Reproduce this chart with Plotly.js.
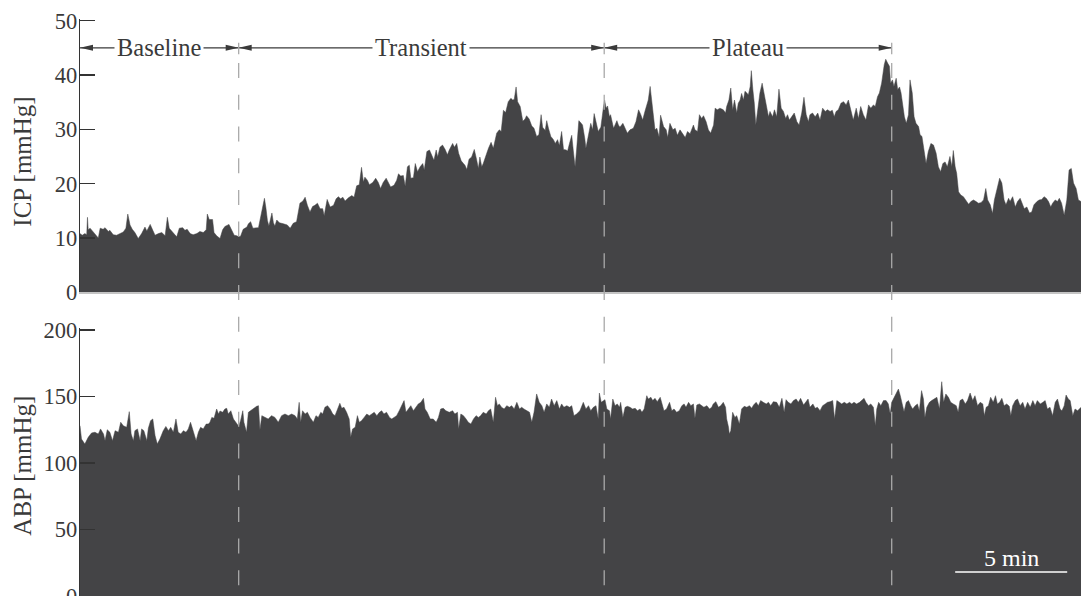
<!DOCTYPE html>
<html><head><meta charset="utf-8">
<script src="https://cdn.plot.ly/plotly-3.0.1.min.js"></script>
<style>html,body{margin:0;padding:0;background:#fff}#chart{width:1081px;height:596px}</style>
</head><body><div id="chart"></div>
<script>
// time in seconds, ICP in mmHg
const icpTime = [0,6,13,18,20,22,27,36,45,49,54,62,67,76,80,89,98,107,116,123,128,134,140,147,156,165,174,179,188,195,201,210,219,228,234,239,246,259,266,275,281,287,295,303,313,321,330,338,341,346,355,359,366,375,382,388,399,406,413,420,425,430,437,447,451,457,463,478,482,489,494,498,502,506,511,514,518,522,527,534,545,555,563,571,580,585,589,597,603,609,616,623,629,636,643,650,654,659,662,
670,679,686,692,698,704,710,719,728,734,741,748,754,759,763,770,775,784,792,799,805,812,820,826,832,841,848,853,859,866,871,877,882,886,893,898,904,911,918,922,929,936,942,948,954,958,964,971,978,984,989,998,1003,1009,1014,1021,1027,1031,1036,1042,1049,1056,1062,1067,1071,1076,1080,1088,1094,1101,1107,1116,1123,1128,1134,1140,1147,1154,1159,1163,1168,1172,1179,1186,1192,1196,1203,1210,1216,1223,1229,1235,1239,1246,1250,1255,1261,1268,1273,1279,1284,1290,1295,1302,1306,1311,1317,1321,1326,1330,1336,
1339,1346,1352,1355,1362,1368,1373,1377,1382,1388,1395,1398,1402,1405,1409,1413,1418,1421,1429,1433,1438,1442,1446,1454,1460,1466,1473,1482,1489,1496,1502,1507,1513,1518,1522,1527,1531,1536,1540,1545,1551,1555,1563,1570,1574,1580,1588,1594,1600,1607,1614,1621,1627,1634,1643,1647,1654,1659,1665,1670,1677,1683,1689,1697,1701,1707,1714,1723,1729,1732,1738,1743,1748,1753,1759,1763,1768,1772,1777,1781,1786,1790,1795,1798,1802,1806,1810,1815,1821,1827,1833,1838,1844,1848,1855,1860,1866,1872,1878,1884,1890,1895,1900,1906,1913,1920,1926,1933,1939,1945,1951,1955,1962,1969,1976,1982,1989,1996,2002,2009,2015,2020,2025,2031,
2038,2045,2052,2058,2065,2071,2079,2085,2091,2098,2105,2112,2118,2125,2130,2136,2141,2147,2154,2158,2163,2168,2171,2176,2180,2186,2190,2195,2199,2204,2208,2213,2219,2223,2229,2234,2239,2246,2250,2255,2261,2266,2272,2279,2286,2293,2299,2305,2311,2317,2323,2330,2335,2339,2344,2348,2353,2359,2366,2372,2380,2386,2393,2400,2406,2413,2420,2426,2431,2438,2444,2449,2455,2463,2469,2475,2480,2487,2491,2498,2505,2511,2518,2522,2529,2536,2543,2549,2555,2563,2569,2576,2582,2588,2594,2600,2605,2612,2618,2623,2629,2636,2643,2649,2655,2661,2668,2674,2681];
const icpValue = [10.8,10.5,10.8,10.6,13.8,11.5,11.8,11.0,10.2,10.0,11.8,11.6,11.9,11.2,11.4,10.6,10.5,10.8,11.1,11.8,14.4,12.4,11.6,11.0,9.9,10.8,12.0,11.3,12.5,11.4,10.5,10.8,11.0,10.4,13.8,11.8,11.2,10.2,11.8,11.9,11.4,11.6,10.8,10.6,10.8,11.2,11.0,11.5,14.4,13.4,13.4,11.0,10.4,9.9,11.5,12.1,12.5,11.5,10.5,10.4,10.2,10.3,11.6,12.0,12.6,13.0,11.8,11.9,13.3,16.0,17.3,15.5,13.2,12.2,13.5,14.6,12.8,12.2,13.3,12.8,12.6,12.4,11.8,12.7,13.0,15.0,16.4,16.8,17.5,16.0,14.8,15.8,16.0,16.4,15.4,15.4,14.1,16.0,17.1,
15.7,16.0,17.2,17.6,17.2,17.5,16.8,17.4,17.8,17.5,19.6,19.8,23.0,20.3,21.2,20.6,19.8,20.2,21.0,20.2,19.1,20.2,21.0,20.2,19.4,19.7,20.6,21.8,21.4,21.5,19.5,23.1,23.4,21.0,21.1,23.7,22.2,23.1,23.7,22.5,25.9,26.2,25.3,24.3,26.2,24.9,26.7,27.1,26.3,25.3,26.2,27.4,26.7,27.4,25.6,24.2,23.7,23.4,22.6,24.5,24.9,26.3,24.5,22.8,24.9,23.1,23.7,25.5,26.5,27.6,26.5,29.3,29.9,29.6,33.5,33.1,35.1,35.7,35.4,35.5,37.8,35.1,34.2,31.5,31.9,32.5,31.9,30.6,30.2,28.7,29.0,32.7,30.4,29.8,31.6,30.1,28.7,28.1,27.4,28.1,27.0,29.6,26.3,26.2,26.0,27.4,28.9,26.2,23.1,26.2,31.6,
31.4,30.8,28.3,26.5,29.0,31.1,29.9,32.9,31.4,29.6,30.4,32.6,34.1,35.4,33.9,34.3,32.3,32.7,30.2,30.8,31.6,30.8,30.4,31.1,30.2,29.3,29.9,30.2,31.4,33.6,32.7,31.7,33.3,34.5,35.4,37.9,35.1,32.3,29.9,30.2,28.6,32.6,30.5,29.9,28.5,31.1,29.9,30.2,28.9,29.9,29.3,28.5,29.6,29.2,30.8,29.9,29.6,32.7,32.0,32.5,31.4,29.9,29.3,30.8,33.9,33.6,33.9,33.6,33.0,34.2,35.4,37.6,33.6,35.4,33.0,34.8,35.4,36.6,35.4,37.0,36.7,36.3,37.9,40.8,37.4,34.8,30.8,33.6,36.7,38.5,36.3,34.8,32.3,33.3,32.3,33.6,32.3,37.4,33.9,33.3,32.0,32.7,31.7,32.3,33.0,31.4,30.8,33.0,35.9,32.7,31.4,32.7,33.0,32.3,33.0,31.7,33.9,33.3,33.6,33.3,33.5,32.3,33.3,33.6,
34.8,35.1,34.5,35.4,33.6,31.7,33.9,32.0,34.2,32.7,31.7,34.5,33.9,34.5,34.2,36.0,36.7,38.5,41.9,42.9,42.2,41.6,38.5,39.1,37.9,39.4,37.3,37.8,36.7,34.2,32.3,31.1,32.7,39.1,36.7,32.3,31.1,30.5,29.0,28.7,25.9,23.7,25.9,27.4,27.1,25.6,23.1,22.2,23.7,24.0,23.1,25.0,23.1,26.1,23.1,21.9,18.5,17.9,17.6,17.0,16.2,16.7,17.0,16.7,16.4,16.5,17.0,19.1,17.0,16.1,14.5,17.0,18.8,21.0,20.1,17.0,16.1,17.3,16.7,17.6,15.7,16.7,17.3,16.7,15.4,15.7,14.6,14.8,16.1,16.7,17.0,17.1,17.6,17.3,16.7,15.7,16.4,17.0,16.7,17.3,16.4,14.2,17.0,22.5,22.8,20.1,19.1,17.0,16.7];

// time in seconds, ABP in mmHg
const abpTime = [0,4,13,22,31,40,49,55,63,67,73,80,87,94,103,109,116,125,132,137,143,147,154,161,165,171,179,183,189,195,201,207,214,223,230,237,243,250,257,263,270,277,284,290,296,304,311,317,323,330,338,344,348,353,359,366,371,375,382,388,393,397,404,411,418,425,430,436,439,446,451,457,464,473,478,482,487,496,504,513,522,531,540,549,558,567,576,582,587,591,596,603,609,616,625,632,638,645,650,656,663,670,677,683,689,696,701,707,714,721,725,730,737,743,748,754,761,768,775,781,788,795,802,808,814,821,829,835,841,848,855,862,868,873,880,886,893,900,906,913,920,924,930,938,946,954,960,966,973,980,989,998,1004,1011,1014,1020,1027,1034,1040,1047,1054,1061,1067,1073,1080,1088,1094,1100,1107,1113,1118,1123,1129,1136,1143,1150,1156,1163,1170,1177,1183,1189,1196,1204,1210,1216,1223,1230,1237,1243,1250,1257,1263,1270,1277,1284,1290,1296,1304,1311,1317,1323,1330,1339,
1348,1355,1362,1368,1375,1382,1388,1391,1396,1402,1406,1411,1418,1421,1427,1433,1439,1445,1448,1454,1460,1466,1473,1480,1487,1493,1500,1505,1511,1518,1522,1529,1534,1540,1546,1554,1559,1564,1571,1579,1585,1591,1598,1605,1612,1618,1623,1630,1636,1643,1647,1652,1659,1665,1671,1679,1686,1692,1696,1703,1710,1716,1723,1729,1732,1737,1739,1743,1748,1754,1759,1766,1772,1779,1786,1793,1799,1804,1811,1817,1823,1830,1838,1844,1850,1857,1866,1873,1880,1886,1891,1897,1904,1911,1918,1924,1930,1938,1944,1950,1955,1963,1969,1975,1982,1989,1996,2002,2009,2016,2021,2027,2034,2040,2047,2054,2061,2067,2073,2080,2088,2094,2100,2105,2112,2118,2125,2130,2134,2139,2145,2152,2159,2165,2170,2174,2179,2185,2192,2197,2201,2207,2213,2219,2225,2230,2237,2243,2248,2254,2259,2263,2268,2275,2281,2288,2295,2302,2308,2313,2319,2326,2332,2339,2347,2352,2357,2364,2371,2377,2384,2391,2397,2404,2411,2418,2422,2427,2433,2439,2446,2452,2457,2463,2469,2475,2482,2489,2493,2498,2505,2511,2518,2525,2531,2538,2545,2552,2558,2564,2572,2579,2585,2591,2598,2605,2612,2618,2625,2630,2636,2641,2647,2652,2659,2665,2672,2681];
const abpValue = [128.0,118.0,114.3,119.3,122.6,123.1,121.8,125.6,121.8,116.8,125.0,123.1,116.8,124.3,123.1,130.6,128.0,126.8,138.6,121.8,116.8,124.3,125.6,116.8,125.6,124.3,116.8,126.1,131.8,133.1,120.6,114.3,118.0,124.3,127.5,124.3,126.8,123.1,133.1,123.1,121.8,124.3,123.1,125.6,130.6,123.1,116.8,123.1,126.8,125.6,129.3,129.3,130.6,134.3,133.6,140.6,136.8,139.1,138.1,140.6,141.1,136.8,139.3,133.1,130.6,127.6,131.8,139.3,130.6,123.1,138.1,139.3,141.1,142.6,143.1,125.0,135.6,134.3,133.1,135.6,134.3,130.6,135.6,136.8,135.6,136.8,135.6,133.1,145.6,130.6,139.3,136.8,138.1,134.3,130.6,135.6,134.3,138.1,136.8,141.9,143.1,140.6,136.8,135.6,140.6,144.9,141.1,141.9,138.1,133.1,119.3,125.6,126.8,135.6,130.6,131.8,134.3,136.8,135.6,136.8,138.1,135.6,138.1,139.3,136.8,138.1,134.3,133.1,134.3,135.6,139.3,143.1,146.9,138.1,140.6,143.1,139.3,141.9,144.4,145.6,148.6,140.6,138.1,133.1,133.1,130.6,134.3,140.6,141.1,139.3,138.1,139.3,136.8,138.1,125.6,136.8,135.6,133.1,130.6,129.3,133.1,135.6,134.3,135.6,138.1,136.8,139.3,140.6,130.6,149.4,143.1,144.4,141.9,140.6,143.1,141.9,143.1,140.6,145.6,140.6,141.9,140.6,139.3,138.1,130.6,138.1,151.9,145.6,143.1,138.1,144.4,141.9,148.1,143.1,146.9,140.6,144.4,141.9,143.1,141.9,143.1,135.6,136.8,139.3,
145.6,140.6,143.1,139.3,141.9,143.1,133.1,152.6,145.6,146.9,147.6,140.6,139.3,133.1,148.1,143.1,144.4,141.9,145.6,134.3,141.9,142.6,141.9,140.6,141.1,139.3,140.6,138.1,140.6,150.6,148.1,149.4,146.9,148.6,146.1,149.4,143.1,139.3,140.6,145.6,139.3,140.6,138.1,139.3,143.1,144.4,141.9,145.6,143.1,144.4,133.6,143.6,144.4,143.1,141.9,143.1,140.6,141.9,144.4,146.1,141.9,143.1,145.6,141.9,133.1,126.8,121.8,124.3,138.1,134.3,135.6,129.3,140.6,142.6,141.9,143.1,141.1,143.6,145.6,143.1,146.9,145.6,144.4,145.6,143.1,146.1,145.6,141.9,148.6,138.1,147.6,145.6,144.4,146.9,148.1,145.6,148.6,143.6,145.6,148.1,141.9,144.4,141.1,141.9,139.3,143.1,144.4,145.6,146.1,146.9,133.1,146.9,145.6,144.4,145.6,144.4,145.6,144.4,145.6,144.4,145.6,146.9,148.6,145.6,143.1,144.4,141.9,128.0,140.6,145.6,143.1,146.9,146.9,144.4,136.8,145.6,148.1,151.1,155.6,150.6,145.6,138.6,145.6,146.9,143.1,140.6,143.1,144.4,139.3,154.4,148.1,134.3,141.9,145.6,146.9,148.1,149.4,140.6,161.1,145.6,151.9,149.4,145.6,144.4,143.1,138.1,146.9,148.1,144.4,146.9,152.6,146.9,150.6,143.1,145.6,144.4,135.6,141.9,143.1,149.4,145.6,150.6,144.4,145.6,148.6,143.1,144.4,142.6,135.6,143.1,146.9,148.1,143.1,145.6,140.6,145.6,141.9,146.9,143.1,146.9,144.4,145.6,146.9,140.6,141.9,135.6,145.6,148.1,140.6,139.3,143.1,151.1,148.1,146.9,135.6,140.6,139.3,141.9];

const phaseBounds = [0, 425, 1404, 2174];   // seconds
const phaseNames = ['Baseline', 'Transient', 'Plateau'];
const arrowLevel = 45;                      // mmHg on the ICP axis
const icpTicks = [0, 10, 20, 30, 40, 50];
const abpTicks = [0, 50, 100, 150, 200];
const scaleBarStart = 2344, scaleBarLength = 300, scaleBarLevel = 18, scaleBarLabel = '5 min';
const totalTime = 2681;

const FILL = '#444446';
const INK = '#3a3a3a';
const DASH = '#a9a9a9';
const FONT = 'Liberation Serif, Times New Roman, serif';

const traces = [
  {x: icpTime, y: icpValue, type: 'scatter', mode: 'lines', fill: 'tozeroy',
   fillcolor: FILL, line: {color: FILL, width: 0.5}, xaxis: 'x', yaxis: 'y', hoverinfo: 'skip'},
  {x: abpTime, y: abpValue, type: 'scatter', mode: 'lines', fill: 'tozeroy',
   fillcolor: FILL, line: {color: FILL, width: 0.5}, xaxis: 'x2', yaxis: 'y2', hoverinfo: 'skip'}
];

const shapes = [];
const annotations = [];

// phase arrows
for (let i = 0; i < phaseNames.length; i++) {
  const a = phaseBounds[i], b = phaseBounds[i + 1];
  shapes.push({type: 'line', xref: 'x', yref: 'y', x0: a, x1: b, y0: arrowLevel, y1: arrowLevel,
    line: {color: INK, width: 1.3}});
  shapes.push({type: 'path', xref: 'x', yref: 'y', xsizemode: 'pixel', ysizemode: 'pixel',
    xanchor: a, yanchor: arrowLevel, path: 'M0,0L13,3L13,-3Z', fillcolor: INK, line: {width: 0}});
  shapes.push({type: 'path', xref: 'x', yref: 'y', xsizemode: 'pixel', ysizemode: 'pixel',
    xanchor: b, yanchor: arrowLevel, path: 'M0,0L-13,3L-13,-3Z', fillcolor: INK, line: {width: 0}});
  annotations.push({x: (a + b) / 2, y: arrowLevel, xref: 'x', yref: 'y', text: phaseNames[i],
    showarrow: false, bgcolor: '#ffffff', borderpad: 2, xanchor: 'center', yanchor: 'middle',
    font: {family: FONT, size: 24.5, color: INK}});
}

// dashed phase separators
for (let i = 1; i < phaseBounds.length; i++) {
  const b = phaseBounds[i];
  shapes.push({type: 'line', xref: 'x', yref: 'paper', x0: b, x1: b, y0: -0.0352, y1: 0.8943,
    line: {color: DASH, width: 1.3, dash: '15px,16.7px'}});
  shapes.push({type: 'line', xref: 'x', yref: 'y', ysizemode: 'pixel', yanchor: arrowLevel,
    x0: b, x1: b, y0: -6.5, y1: 5, line: {color: DASH, width: 1.3}});
}

// scale bar
shapes.push({type: 'line', xref: 'x2', yref: 'y2', x0: scaleBarStart, x1: scaleBarStart + scaleBarLength,
  y0: scaleBarLevel, y1: scaleBarLevel, line: {color: '#ffffff', width: 1.5}});
annotations.push({x: scaleBarStart + scaleBarLength / 2, y: 28.6, xref: 'x2', yref: 'y2', text: scaleBarLabel,
  showarrow: false, xanchor: 'center', yanchor: 'middle', font: {family: FONT, size: 24, color: '#ffffff'}});

// axis titles
annotations.push({x: -0.057, y: 0.7287, xref: 'paper', yref: 'paper', text: 'ICP [mmHg]', textangle: -90,
  showarrow: false, xanchor: 'center', yanchor: 'middle', font: {family: FONT, size: 25, color: INK}});
annotations.push({x: -0.057, y: 0.2186, xref: 'paper', yref: 'paper', text: 'ABP [mmHg]', textangle: -90,
  showarrow: false, xanchor: 'center', yanchor: 'middle', font: {family: FONT, size: 25, color: INK}});

const yCommon = {
  showline: true, linecolor: '#333333', linewidth: 1.3, ticks: 'inside', ticklen: 15, tickwidth: 1.3,
  tickcolor: '#333333', showgrid: false, zeroline: false, tickmode: 'array', ticklabelstandoff: -3,
  ticklabeloverflow: 'allow', tickfont: {family: FONT, size: 22.5, color: INK}, fixedrange: true
};

const layout = {
  width: 1081, height: 596,
  margin: {l: 80, r: 0, t: 0, b: 0, pad: 0},
  paper_bgcolor: '#ffffff', plot_bgcolor: '#ffffff',
  showlegend: false,
  xaxis: {domain: [0, 1], range: [0, totalTime], anchor: 'y', showline: true, linecolor: '#c4c4c4',
    linewidth: 1.5, showticklabels: false, ticks: '', showgrid: false, zeroline: false},
  xaxis2: {domain: [0, 1], range: [0, totalTime], anchor: 'y2', showline: false, showticklabels: false,
    ticks: '', showgrid: false, zeroline: false},
  yaxis: Object.assign({}, yCommon, {domain: [0.5096, 0.968], range: [0, 50.3], anchor: 'x',
    tickvals: icpTicks, ticktext: icpTicks.map(String)}),
  yaxis2: Object.assign({}, yCommon, {domain: [0, 0.449], range: [0, 201.2], anchor: 'x2',
    tickvals: abpTicks, ticktext: abpTicks.map(String)}),
  shapes: shapes,
  annotations: annotations
};

Plotly.newPlot('chart', traces, layout, {staticPlot: true, displayModeBar: false});
</script>
</body></html>
